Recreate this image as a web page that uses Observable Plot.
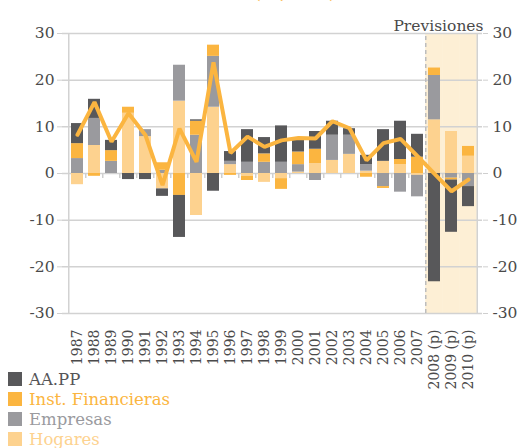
<!DOCTYPE html>
<html>
<head>
<meta charset="utf-8">
<script src="https://cdn.jsdelivr.net/npm/d3@7"></script>
<script src="https://cdn.jsdelivr.net/npm/@observablehq/plot@0.6"></script>
<style>
  body { margin: 0; background: #fff; font-family: "DejaVu Serif", serif; }
  #wrap { position: relative; width: 524px; height: 448px; overflow: hidden; }
  #title { position: absolute; top: -19px; left: 0; width: 590px; text-align: center; color: #fbb540; font-size: 20px; line-height: 20px; }
  #legend { position: absolute; left: 8px; top: 369px; }
  .row { display: flex; align-items: center; height: 20px; font-size: 16.5px; }
  .sw { width: 14px; height: 14px; margin-right: 7px; }
</style>
</head>
<body>
<div id="wrap">
  <div id="title">(%, PIB)</div>
  <div id="chart"></div>
  <div id="legend"></div>
</div>
<script>
const years = ["1987","1988","1989","1990","1991","1992","1993","1994","1995","1996","1997","1998","1999","2000","2001","2002","2003","2004","2005","2006","2007","2008 (p)","2009 (p)","2010 (p)"];
const forecastYears = ["2008 (p)","2009 (p)","2010 (p)"];
const seriesNames = ["Hogares","Empresas","Inst. Financieras","AA.PP"];
const hogares  = [-2.4, 6.0, 0, 12.9, 7.9, -3.3, 15.5, -9.0, 14.2, 1.9, -0.6, -1.9, -1.1, 0.3, 2.1, 2.8, 4.1, 0.5, 2.6, 1.9, -0.4, 11.5, 9.0, 3.7];
const empresas = [3.2, 5.8, 2.6, 0, 1.5, 0.7, 7.7, 8.2, 10.9, 0.7, 2.4, 2.4, 2.4, 1.6, -1.5, 5.4, 4.1, 1.4, -2.8, -4.0, -4.6, 9.5, -1.0, -2.8];
const instFin  = [3.2, -0.6, 2.3, 1.3, 0, 1.6, -4.7, 3.0, 2.4, -0.4, -0.9, 1.8, -2.3, 2.7, 3.1, 0, 0, -0.8, -0.4, 1.1, 3.5, 1.6, -0.4, 2.1];
const aapp     = [4.3, 4.1, 2.2, -1.3, -1.3, -1.6, -9.0, 0.3, -3.8, 2.1, 7.0, 3.5, 7.8, 2.5, 3.8, 3.0, 1.4, 2.0, 6.8, 8.2, 4.9, -23.2, -11.2, -4.3];
const total    = [8.3, 15.3, 6.8, 12.9, 8.2, -2.5, 9.6, 2.5, 23.8, 4.4, 7.9, 5.7, 7.1, 7.6, 7.5, 11.2, 9.7, 2.8, 6.5, 7.4, 3.7, -0.1, -3.8, -1.3];
const yTicks = [-30, -20, -10, 0, 10, 20, 30];
const legendNames = ["AA.PP","Inst. Financieras","Empresas","Hogares"];

const colors = {"Hogares": "#fdd28f", "Empresas": "#9a9a9e", "Inst. Financieras": "#fbb540", "AA.PP": "#58585a"};
const textColors = {"AA.PP": "#555557", "Inst. Financieras": "#fbb540", "Empresas": "#9a9a9e", "Hogares": "#fdd28f"};

const values = {"Hogares": hogares, "Empresas": empresas, "Inst. Financieras": instFin, "AA.PP": aapp};
const rows = [];
years.forEach((yr, i) => seriesNames.forEach(s => rows.push({year: yr, series: s, value: values[s][i]})));
const lineRows = years.map((yr, i) => ({year: yr, total: total[i]}));

const W = 524, H = 400, mL = 62, mR = 42, mT = 33, mB = 87;
const pIn = 0.32, pOut = 0.16;
const halfStep = (W - mL - mR) / years.length / 2;
const gapHalf = halfStep * pIn;
const ink = "#4a4a4a";

const chart = Plot.plot({
  width: W, height: H,
  marginLeft: mL, marginRight: mR, marginTop: mT, marginBottom: mB,
  style: {fontFamily: "DejaVu Serif", fontSize: "15px", color: ink, background: "transparent"},
  x: {type: "band", domain: years, paddingInner: pIn, paddingOuter: pOut, label: null},
  y: {domain: [-30, 30], label: null},
  color: {domain: seriesNames, range: seriesNames.map(s => colors[s])},
  marks: [
    Plot.barY(forecastYears, {x: d => d, y1: -30, y2: 30, fill: "#fdefd5", insetLeft: -gapHalf, insetRight: -gapHalf}),
    Plot.ruleY(yTicks, {stroke: "#d2d2d2", strokeWidth: 1.5}),
    Plot.ruleX([forecastYears[0]], {x: d => d, y1: -30, y2: 30, dx: -halfStep, stroke: "#bdbdbd", strokeWidth: 1.5, strokeDasharray: "4,3"}),
    Plot.ruleX(years.slice(1), {x: d => d, y1: 0, y2: 0, dx: -halfStep, insetBottom: -5, stroke: "#cfcfcf", strokeWidth: 1.5}),
    Plot.barY(rows, {x: "year", y: "value", fill: "series"}),
    Plot.line(lineRows, {x: "year", y: "total", stroke: "#fbb540", strokeWidth: 4, strokeLinejoin: "miter"}),
    Plot.axisY({anchor: "left", ticks: yTicks, tickSize: 5, tickPadding: 3, stroke: "#cfcfcf", fill: ink, fontSize: 15.5, tickFormat: d => String(d)}),
    Plot.axisY({anchor: "right", ticks: yTicks, tickSize: 5, tickPadding: 5, stroke: "#cfcfcf", fill: ink, fontSize: 15.5, tickFormat: d => String(d)}),
    Plot.axisX({anchor: "bottom", tickSize: 0, tickPadding: 16, tickRotate: -90, fill: ink, fontSize: 14}),
    Plot.ruleX([0], {x: () => years[0], y1: -30, y2: 30, dx: -halfStep, stroke: "#d2d2d2", strokeWidth: 1.5}),
    Plot.ruleX([0], {x: () => years[years.length - 1], y1: -30, y2: 30, dx: halfStep, stroke: "#d2d2d2", strokeWidth: 1.5}),
    Plot.text(["Previsiones"], {frameAnchor: "top-right", text: d => d, textAnchor: "end", dy: -14, dx: 1, fill: ink, fontSize: 15.5})
  ]
});
document.getElementById("chart").appendChild(chart);

const legend = document.getElementById("legend");
legendNames.forEach(n => {
  const r = document.createElement("div");
  r.className = "row";
  const sw = document.createElement("div");
  sw.className = "sw";
  sw.style.background = colors[n];
  const t = document.createElement("span");
  t.textContent = n;
  t.style.color = textColors[n];
  r.appendChild(sw); r.appendChild(t);
  legend.appendChild(r);
});
</script>
</body>
</html>
